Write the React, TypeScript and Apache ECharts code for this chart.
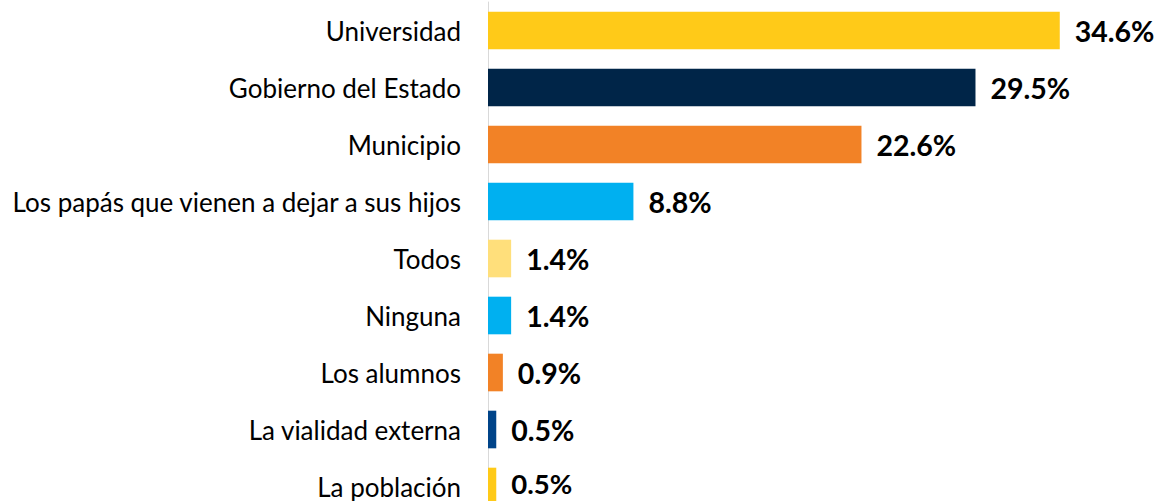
import React, { useEffect, useRef } from "react";
import * as echarts from "echarts";

const categories = [
  "Universidad",
  "Gobierno del Estado",
  "Municipio",
  "Los papás que vienen a dejar a sus hijos",
  "Todos",
  "Ninguna",
  "Los alumnos",
  "La vialidad externa",
  "La población",
];
const values = [34.6, 29.5, 22.6, 8.8, 1.4, 1.4, 0.9, 0.5, 0.5];
const colors = [
  "#FFCA18",
  "#002548",
  "#F28226",
  "#00B0F0",
  "#FFDF7B",
  "#00B0F0",
  "#F28226",
  "#004489",
  "#FFCA18",
];

export default function App() {
  const ref = useRef<HTMLDivElement>(null);
  useEffect(() => {
    if (!ref.current) return;
    const chart = echarts.init(ref.current, null, { renderer: "svg" });
    const last = values.length - 1;
    chart.setOption({
      animation: false,
      backgroundColor: "#ffffff",
      grid: { left: 488, width: 661, top: 2, height: 513, containLabel: false },
      xAxis: {
        type: "value",
        min: 0,
        max: 40,
        show: false,
      },
      yAxis: {
        type: "category",
        inverse: true,
        data: categories,
        axisLine: { show: true, lineStyle: { color: "#D9D9D9", width: 1 } },
        axisTick: { show: false },
        axisLabel: {
          color: "#000000",
          fontFamily: "Lato",
          fontSize: 26,
          lineHeight: 24,
          margin: 27,
        },
      },
      series: [
        {
          type: "bar",
          data: values.map((v, i) => ({
            value: v,
            itemStyle: { color: colors[i] },
            ...(i === last ? { label: { offset: [0, -3], fontSize: 27.5 } } : {}),
          })),
          barCategoryGap: "34%",
          label: {
            show: true,
            position: "right",
            distance: 15,
            color: "#000000",
            fontFamily: "Lato",
            fontWeight: "bold",
            fontSize: 28.5,
            lineHeight: 24,
            formatter: (p: any) => `${Number(p.value).toFixed(1)}%`,
          },
        },
      ],
    });
    return () => chart.dispose();
  }, []);
  return (
    <div
      ref={ref}
      style={{ position: "fixed", left: 0, top: 0, width: 1163, height: 520 }}
    />
  );
}
